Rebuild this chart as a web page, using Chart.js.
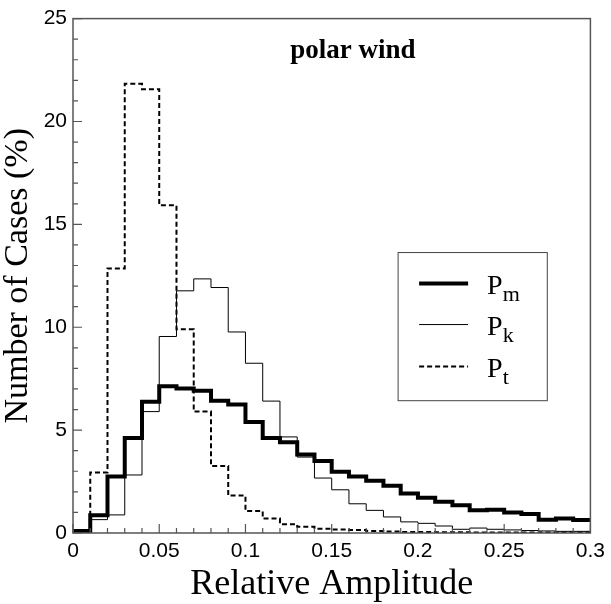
<!DOCTYPE html>
<html>
<head>
<meta charset="utf-8">
<script src="https://cdn.jsdelivr.net/npm/chart.js@4.4.0/dist/chart.umd.min.js"></script>
<style>
  html, body { margin: 0; padding: 0; background: #fff; }
  #wrap { width: 611px; height: 604px; }
</style>
</head>
<body>
<div id="wrap"><canvas id="histChart" width="611" height="604"></canvas></div>
<script>
// bin edges of the histograms (relative amplitude)
const binEdges = [0, 0.01, 0.02, 0.03, 0.04, 0.05, 0.06, 0.07, 0.08, 0.09, 0.1,
                  0.11, 0.12, 0.13, 0.14, 0.15, 0.16, 0.17, 0.18, 0.19, 0.2,
                  0.21, 0.22, 0.23, 0.24, 0.25, 0.26, 0.27, 0.28, 0.29, 0.3];

// number of cases (%) in each bin
const pmValues = [0.1, 0.86, 2.75, 4.62, 6.38, 7.13, 7.02, 6.91, 6.43, 6.25,
                  5.39, 4.62, 4.41, 3.82, 3.5, 2.98, 2.74, 2.54, 2.3, 1.92,
                  1.71, 1.52, 1.35, 1.11, 1.13, 1.0, 0.92, 0.65, 0.7, 0.63];
const pkValues = [0.05, 0.65, 0.88, 2.82, 5.9, 9.55, 11.77, 12.35, 11.93, 9.77,
                  8.25, 6.41, 4.67, 3.69, 2.67, 2.1, 1.42, 1.1, 0.78, 0.54,
                  0.47, 0.34, 0.18, 0.24, 0.18, 0.15, 0.12, 0.1, 0.08, 0.08];
const ptValues = [0.12, 2.94, 12.86, 21.83, 21.57, 15.93, 9.9, 5.9, 3.26, 1.82,
                  1.07, 0.7, 0.43, 0.3, 0.21, 0.17, 0.14, 0.1, 0.07, 0.05,
                  0.05, 0.04, 0.04, 0.03, 0.03, 0.03, 0.02, 0.02, 0.02, 0.02];

const seriesNames = ['m', 'k', 't'];
const xTickLabels = ['0', '0.05', '0.1', '0.15', '0.2', '0.25', '0.3'];
const yTickLabels = ['0', '5', '10', '15', '20', '25'];
const panelLabel = 'polar wind';

function toSteps(values) {
    let pts = values.map((v, i) => ({x: binEdges[i], y: v}));
    pts.push({x: binEdges[values.length], y: values[values.length - 1]});
    return pts;
}

const axisColor = '#555';

// frame, inward ticks, panel label and legend
const decorPlugin = {
    id: 'decor',
    afterDatasetsDraw(chart) {
        const ctx = chart.ctx;
        const area = chart.chartArea;
        const xs = chart.scales.x;
        const ys = chart.scales.y;
        ctx.save();

        ctx.strokeStyle = axisColor;
        ctx.lineWidth = 1.5;
        ctx.strokeRect(area.left, area.top, area.right - area.left, area.bottom - area.top);

        ctx.lineWidth = 1.2;
        ctx.beginPath();
        xs.ticks.forEach(t => {
            const px = xs.getPixelForValue(t.value);
            const major = xTickLabels.indexOf(String(Math.round(t.value * 100) / 100)) >= 0;
            ctx.moveTo(px, area.bottom);
            ctx.lineTo(px, area.bottom - (major ? 9 : 5));
        });
        ys.ticks.forEach(t => {
            const py = ys.getPixelForValue(t.value);
            const major = yTickLabels.indexOf(String(t.value)) >= 0;
            ctx.moveTo(area.left, py);
            ctx.lineTo(area.left + (major ? 9 : 5), py);
        });
        ctx.stroke();

        // panel label
        ctx.fillStyle = '#000';
        ctx.font = 'bold 27px "Liberation Serif"';
        ctx.textAlign = 'left';
        ctx.textBaseline = 'alphabetic';
        ctx.fillText(panelLabel, xs.getPixelForValue(0.126), ys.getPixelForValue(23.1));

        // legend box
        const bx0 = xs.getPixelForValue(0.1885), bx1 = xs.getPixelForValue(0.275);
        const by0 = ys.getPixelForValue(13.63), by1 = ys.getPixelForValue(6.43);
        ctx.strokeStyle = '#444';
        ctx.lineWidth = 1;
        ctx.strokeRect(bx0, by0, bx1 - bx0, by1 - by0);

        const rows = [by0 + 31, by0 + 72, by0 + 114];
        chart.data.datasets.forEach((ds, i) => {
            const ry = rows[i];
            ctx.strokeStyle = '#000';
            ctx.lineWidth = ds.borderWidth;
            ctx.setLineDash(ds.borderDash || []);
            ctx.beginPath();
            ctx.moveTo(bx0 + 21, ry);
            ctx.lineTo(bx0 + 70, ry);
            ctx.stroke();
            ctx.setLineDash([]);
            ctx.font = '28px "Liberation Serif"';
            ctx.fillText('P', bx0 + 89, ry + 10);
            const pw = ctx.measureText('P').width;
            ctx.font = '22px "Liberation Serif"';
            ctx.fillText(seriesNames[i], bx0 + 89 + pw, ry + 17);
        });
        ctx.restore();
    }
};

const ctx = document.getElementById('histChart').getContext('2d');
new Chart(ctx, {
    type: 'line',
    data: {
        datasets: [
            {
                label: 'Pm',
                data: toSteps(pmValues),
                stepped: 'before',
                borderColor: '#000',
                borderWidth: 4,
                pointRadius: 0,
                fill: false
            },
            {
                label: 'Pk',
                data: toSteps(pkValues),
                stepped: 'before',
                borderColor: '#000',
                borderWidth: 1,
                pointRadius: 0,
                fill: false
            },
            {
                label: 'Pt',
                data: toSteps(ptValues),
                stepped: 'before',
                borderColor: '#000',
                borderWidth: 2,
                borderDash: [5, 3],
                pointRadius: 0,
                fill: false
            }
        ]
    },
    options: {
        responsive: false,
        animation: false,
        layout: { padding: { top: 12, right: 16, left: 0, bottom: 0 } },
        plugins: {
            legend: { display: false },
            tooltip: { enabled: false }
        },
        scales: {
            x: {
                type: 'linear',
                min: 0,
                max: 0.3,
                grid: { display: false, drawTicks: false },
                border: { display: false },
                ticks: {
                    stepSize: 0.01,
                    autoSkip: false,
                    maxRotation: 0,
                    padding: 6,
                    color: '#000',
                    font: { family: '"Liberation Sans"', size: 21 },
                    callback: function(value) {
                        let s = String(Math.round(value * 100) / 100);
                        return xTickLabels.indexOf(s) >= 0 ? s : '';
                    }
                },
                title: {
                    display: true,
                    text: 'Relative Amplitude',
                    color: '#000',
                    font: { family: '"Liberation Serif"', size: 36, lineHeight: 1 },
                    padding: { top: 0, bottom: 1 }
                },
                afterFit: function(scale) { scale.height = 71; }
            },
            y: {
                min: 0,
                max: 25,
                grid: { display: false, drawTicks: false },
                border: { display: false },
                ticks: {
                    stepSize: 1,
                    autoSkip: false,
                    padding: 6,
                    color: '#000',
                    font: { family: '"Liberation Sans"', size: 21 },
                    callback: function(value) {
                        let s = String(value);
                        return yTickLabels.indexOf(s) >= 0 ? s : '';
                    }
                },
                title: {
                    display: true,
                    text: 'Number of Cases (%)',
                    color: '#000',
                    font: { family: '"Liberation Serif"', size: 34, lineHeight: 1 },
                    padding: { top: 1, bottom: 0 }
                },
                afterFit: function(scale) { scale.width = 73; }
            }
        }
    },
    plugins: [decorPlugin]
});
</script>
</body>
</html>
